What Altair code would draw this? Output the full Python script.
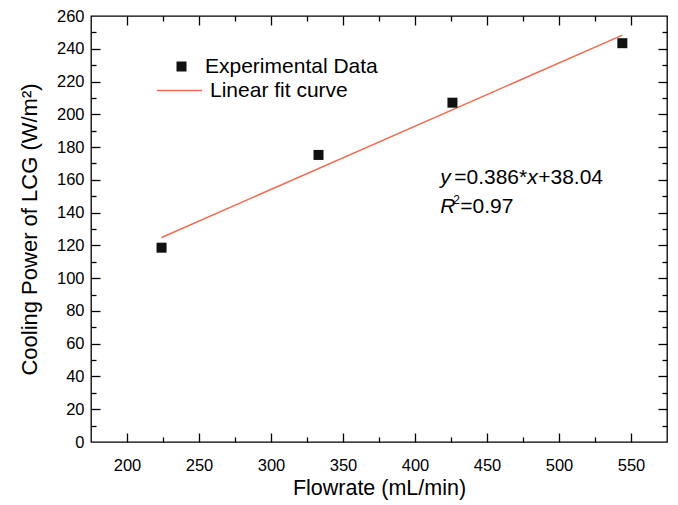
import altair as alt
import pandas as pd

# ---- data ----
flow_rate = [224, 333, 426, 544]
cooling_power = [118.6, 175.2, 207.1, 243.4]
fit_flow = [224, 544]
fit_power = [124.8, 248.3]
legend_labels = ["Experimental Data", "Linear fit curve"]
x_label_values = [200, 250, 300, 350, 400, 450, 500, 550]
x_tick_values = [200, 225, 250, 275, 300, 325, 350, 375, 400, 425, 450, 475, 500, 525, 550]
y_label_values = [0, 20, 40, 60, 80, 100, 120, 140, 160, 180, 200, 220, 240, 260]
y_tick_values = [10, 20, 30, 40, 50, 60, 70, 80, 90, 100, 110, 120, 130, 140, 150, 160,
                 170, 180, 190, 200, 210, 220, 230, 240, 250]
eq_anchor_flow = [417.5]
eq_line1_power = [157.5]
eq_line2_power = [139.8]

W, H = 576, 426
FONT = "Liberation Sans"
ORANGE = "#F26B50"

pts = pd.DataFrame({"flow": flow_rate, "power": cooling_power, "s1": legend_labels[0]})
fit = pd.DataFrame({"flow": fit_flow, "power": fit_power, "s2": legend_labels[1]})
eq1 = pd.DataFrame({"flow": eq_anchor_flow, "power": eq_line1_power})
eq2 = pd.DataFrame({"flow": eq_anchor_flow, "power": eq_line2_power})

xs = alt.Scale(domain=[175, 575], nice=False, zero=False)
ys = alt.Scale(domain=[0, 260], nice=False, zero=False)

x_tick_size = {"condition": {"test": "datum.value % 50 === 0", "value": 9}, "value": 5}
y_tick_size = {"condition": {"test": "datum.value % 20 === 0", "value": 9}, "value": 5}

def tick_axis(orient, offset, values, size):
    return alt.Axis(orient=orient, offset=offset, values=values, labels=False, domain=False,
                    ticks=True, tickSize=size, tickColor="black", tickWidth=1.3,
                    grid=False, title="")

# label axes (bottom / left)
x_label_axis = alt.Axis(orient="bottom", values=x_label_values, ticks=False, tickSize=0,
                        domain=False, grid=False, labelFont=FONT, labelFontSize=16.5,
                        labelColor="black", labelPadding=15,
                        title="Flowrate (mL/min)", titleFont=FONT, titleFontSize=21.5,
                        titleFontWeight="normal", titleColor="black", titlePadding=4)
y_label_axis = alt.Axis(orient="left", values=y_label_values, ticks=False, tickSize=0,
                        domain=False, grid=False, labelFont=FONT, labelFontSize=16.5,
                        labelColor="black", labelPadding=7,
                        title="Cooling Power of LCG (W/m²)", titleFont=FONT, titleFontSize=22,
                        titleFontWeight="normal", titleColor="black", titlePadding=15)

line = alt.Chart(fit).mark_line(strokeWidth=1.5).encode(
    x=alt.X("flow:Q", scale=xs, axis=tick_axis("top", -H, x_tick_values, x_tick_size)),
    y=alt.Y("power:Q", scale=ys, axis=tick_axis("right", -W, y_tick_values, y_tick_size)),
    color=alt.Color("s2:N", scale=alt.Scale(domain=[legend_labels[1]], range=[ORANGE]),
                    legend=alt.Legend(orient="none", legendX=65, legendY=51, title=None,
                                      symbolType="stroke", symbolSize=2025,
                                      symbolStrokeWidth=1.5, labelFont=FONT,
                                      labelFontSize=21, labelColor="black", labelOffset=7,
                                      labelLimit=400, padding=0)),
)

points = alt.Chart(pts).mark_point(filled=True, size=100, opacity=1, color="#111111").encode(
    x=alt.X("flow:Q", scale=xs, axis=x_label_axis),
    y=alt.Y("power:Q", scale=ys, axis=y_label_axis),
    shape=alt.Shape("s1:N", scale=alt.Scale(domain=[legend_labels[0]], range=["square"]),
                    legend=alt.Legend(orient="none", legendX=80, legendY=40, title=None,
                                      symbolSize=100, symbolFillColor="#111111",
                                      symbolStrokeWidth=0, labelFont=FONT,
                                      labelFontSize=21, labelColor="black", labelOffset=13,
                                      labelLimit=400, padding=0)),
)

def eq_text(df, txt, dx, italic, size=21, dy=0, with_axes=False):
    if with_axes:
        xa = tick_axis("bottom", -H, x_tick_values, x_tick_size)
        ya = tick_axis("left", -W, y_tick_values, y_tick_size)
    else:
        xa = None
        ya = None
    return alt.Chart(df).mark_text(
        text=txt, align="left", baseline="alphabetic", dx=dx, dy=dy, font=FONT, fontSize=size,
        fontStyle="italic" if italic else "normal", color="black"
    ).encode(
        x=alt.X("flow:Q", scale=xs, axis=xa),
        y=alt.Y("power:Q", scale=ys, axis=ya),
    )

texts = [
    eq_text(eq1, "y", 0, True, with_axes=True),
    eq_text(eq1, "=0.386*", 14, False),
    eq_text(eq1, "x", 87, True),
    eq_text(eq1, "+38.04", 98, False),
    eq_text(eq2, "R", 0, True),
    eq_text(eq2, "2", 13, False, size=12, dy=-9),
    eq_text(eq2, "=0.97", 20, False),
]

chart = alt.layer(line, points, *texts).resolve_axis(
    x="independent", y="independent"
).resolve_scale(color="independent", shape="independent").properties(
    width=W, height=H,
    autosize=alt.AutoSizeParams(type="none"),
    padding={"left": 83, "top": 8, "right": 3, "bottom": 62},
    background="white",
).configure_view(stroke="black", strokeWidth=1.3)

chart.save("out.html", embed_options={"renderer": "svg", "actions": False})
